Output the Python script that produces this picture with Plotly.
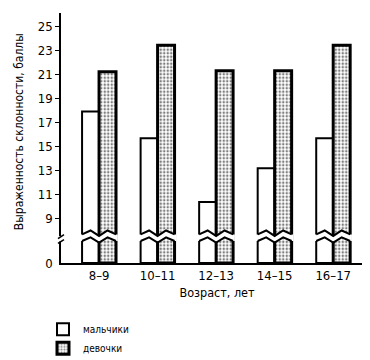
import plotly.graph_objects as go

# ---- data ----
ages = ["8–9", "10–11", "12–13", "14–15", "16–17"]
boys = [17.9, 15.7, 10.4, 13.2, 15.7]
girls = [21.2, 23.4, 21.3, 21.3, 23.4]
y_ticks_upper = [9, 11, 13, 15, 17, 19, 21, 23, 25]
series_names = ["мальчики", "девочки"]
x_title = "Возраст, лет"
y_title = "Выраженность склонности, баллы"

# ---- layout geometry (pixels) ----
W, Hh = 370, 360
ML, MR, MT, MB = 53, 5, 5, 99
PH = Hh - MT - MB
PW = W - ML - MR
BOT = Hh - MB


def py(p):
    return (BOT - p) / PH


def px(p):
    return (p - ML) / PW


split = py(234)
FONT = "DejaVu Sans Condensed, Liberation Sans Narrow, Roboto, sans-serif"

xs = list(range(len(ages)))
bargap = 0.42
bw = (1 - bargap) / 2

fig = go.Figure()
for xa, ya, show in (("x", "y", True), ("x2", "y2", False)):
    fig.add_trace(go.Bar(
        x=xs, y=boys, name=series_names[0], xaxis=xa, yaxis=ya, showlegend=show,
        marker=dict(color="white", line=dict(color="black", width=2)),
    ))
    fig.add_trace(go.Bar(
        x=xs, y=girls, name=series_names[1], xaxis=xa, yaxis=ya, showlegend=show,
        marker=dict(color="white", line=dict(color="black", width=3),
                    pattern=dict(shape=".", fgcolor="black", bgcolor="white",
                                 size=3.5, solidity=0.4)),
    ))

shapes = []
# zigzag breaks on each group
u_edge, u_peak, u_mid = py(231.7), py(227.7), py(233.3)
l_edge, l_peak, l_mid = py(238.5), py(234.8), py(240.0)
for i in xs:
    x0, x1, x2, x3, x4 = i - bw, i - bw / 2, i, i + bw / 2, i + bw
    band = (f"M{x0},{u_edge} L{x1},{u_peak} L{x2},{u_mid} L{x3},{u_peak} L{x4},{u_edge} "
            f"L{x4 + 0.03},{u_edge} L{x4 + 0.03},{l_edge} "
            f"L{x4},{l_edge} L{x3},{l_peak} L{x2},{l_mid} L{x1},{l_peak} L{x0},{l_edge} "
            f"L{x0 - 0.03},{l_edge} L{x0 - 0.03},{u_edge} Z")
    shapes.append(dict(type="path", xref="x", yref="paper", path=band,
                       fillcolor="white", line=dict(width=0)))
    up = f"M{x0},{u_edge} L{x1},{u_peak} L{x2},{u_mid} L{x3},{u_peak} L{x4},{u_edge}"
    lo = f"M{x0},{l_edge} L{x1},{l_peak} L{x2},{l_mid} L{x3},{l_peak} L{x4},{l_edge}"
    for p in (up, lo):
        shapes.append(dict(type="path", xref="x", yref="paper", path=p,
                           line=dict(color="black", width=2)))

# axis break marks
shapes.append(dict(type="rect", xref="paper", yref="paper",
                   x0=px(49), x1=px(57), y0=py(239), y1=py(233.5),
                   fillcolor="white", line=dict(width=0)))
for a, b in ((236, 232), (241, 237)):
    shapes.append(dict(type="line", xref="paper", yref="paper",
                       x0=px(50), y0=py(a), x1=px(56), y1=py(b),
                       line=dict(color="black", width=1.5)))

fig.update_layout(
    width=W, height=Hh,
    margin=dict(l=ML, r=MR, t=MT, b=MB),
    paper_bgcolor="white", plot_bgcolor="white",
    barmode="group", bargap=bargap, bargroupgap=0,
    font=dict(family=FONT, size=13, color="black"),
    showlegend=True,
    legend=dict(orientation="v", x=px(35), y=py(314), xanchor="left", yanchor="top",
                font=dict(size=10), tracegroupgap=0, bgcolor="rgba(0,0,0,0)"),
    shapes=shapes,
    xaxis=dict(domain=[0, 1], range=[-0.65, 4.68], tickvals=xs, ticktext=ages,
               showline=True, linecolor="black", linewidth=1.5, ticks="",
               showgrid=False, zeroline=False, anchor="y",
               title=dict(text=x_title, standoff=6, font=dict(size=12.5))),
    xaxis2=dict(domain=[0, 1], range=[-0.65, 4.68], matches="x", showticklabels=False,
                showline=False, ticks="", showgrid=False, zeroline=False, anchor="y2"),
    yaxis=dict(domain=[0, split], range=[0, 2], tickvals=[0], ticktext=["0"],
               showline=True, linecolor="black", linewidth=1.5, ticks="",
               showgrid=False, zeroline=False, anchor="x", ticklabelstandoff=4),
    yaxis2=dict(domain=[split, 1], range=[7.53, 26.08], tickvals=y_ticks_upper,
                showline=True, linecolor="black", linewidth=1.5, ticks="outside",
                ticklen=4, tickwidth=1, tickcolor="black",
                showgrid=False, zeroline=False, anchor="x2"),
    annotations=[dict(text=y_title, xref="paper", yref="paper", x=px(11), y=py(127),
                      textangle=-90, showarrow=False, font=dict(size=12),
                      xanchor="center", yanchor="middle")],
)

fig.write_html("out.html")
